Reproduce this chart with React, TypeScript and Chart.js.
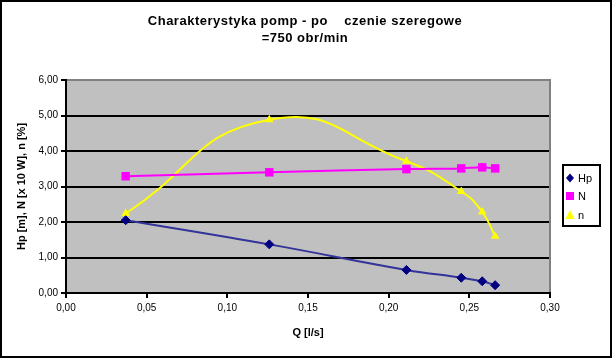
import React, { useEffect, useRef } from "react";
import { Chart, registerables } from "chart.js";

Chart.register(...registerables);

const Q = [0.037, 0.126, 0.211, 0.245, 0.258, 0.266];
const HP = [2.05, 1.37, 0.65, 0.43, 0.33, 0.22];
const N = [3.29, 3.4, 3.49, 3.51, 3.54, 3.51];
const ETA = [2.24, 4.88, 3.71, 2.86, 2.28, 1.6];
const SERIES = ["Hp", "N", "n"];
const TITLE = ["Charakterystyka pomp - po    czenie szeregowe", "=750 obr/min"];
const X_TITLE = "Q [l/s]";
const Y_TITLE = "Hp [m], N [x 10 W], n [%]";
const X_MIN = 0;
const X_MAX = 0.3;
const X_STEP = 0.05;
const Y_MIN = 0;
const Y_MAX = 6;
const Y_STEP = 1;

const FONT = "'Liberation Sans', Arial, sans-serif";

const fmt = (v: number) => Number(v).toFixed(2).replace(".", ",");

const decorPlugin = {
  id: "decor",
  beforeDraw(chart: any) {
    const { ctx, chartArea: a, width, height } = chart;
    ctx.save();
    ctx.fillStyle = "#ffffff";
    ctx.fillRect(0, 0, width, height);
    ctx.fillStyle = "#c0c0c0";
    ctx.fillRect(a.left, a.top, a.right - a.left, a.bottom - a.top);
    ctx.restore();
  },
  beforeDatasetsDraw(chart: any) {
    const { ctx, chartArea: a } = chart;
    ctx.save();
    ctx.strokeStyle = "#808080";
    ctx.lineWidth = 2;
    ctx.beginPath();
    ctx.moveTo(a.left + 1, a.top);
    ctx.lineTo(a.right, a.top);
    ctx.lineTo(a.right, a.bottom - 1);
    ctx.stroke();
    ctx.restore();
  },
  afterDraw(chart: any) {
    const { ctx, width, height } = chart;
    ctx.save();
    // outer border
    ctx.strokeStyle = "#000";
    ctx.lineWidth = 2;
    ctx.strokeRect(1, 1, width - 2, height - 2);
    // title
    ctx.fillStyle = "#000";
    ctx.font = `bold 13px ${FONT}`;
    (ctx as any).letterSpacing = "0.5px";
    ctx.textAlign = "center";
    ctx.textBaseline = "middle";
    ctx.fillText(TITLE[0], 305, 21);
    ctx.fillText(TITLE[1], 305, 38);
    (ctx as any).letterSpacing = "0px";
    // legend
    const bx = 563, by = 165, bw = 37, bh = 61;
    ctx.lineWidth = 2;
    ctx.strokeRect(bx, by, bw, bh);
    ctx.font = `11px ${FONT}`;
    ctx.textAlign = "left";
    const rows = [178, 196, 215];
    chart.data.datasets.forEach((ds: any, i: number) => {
      const y = rows[i];
      const x = 570;
      ctx.fillStyle = ds.pointBackgroundColor;
      ctx.beginPath();
      if (ds.pointStyle === "rectRot") {
        ctx.moveTo(x, y - 4.5);
        ctx.lineTo(x + 4, y);
        ctx.lineTo(x, y + 4.5);
        ctx.lineTo(x - 4, y);
      } else if (ds.pointStyle === "rect") {
        ctx.rect(x - 4, y - 4, 8, 8);
      } else {
        ctx.moveTo(x, y - 5);
        ctx.lineTo(x + 4.5, y + 4);
        ctx.lineTo(x - 4.5, y + 4);
      }
      ctx.closePath();
      ctx.fill();
      ctx.fillStyle = "#000";
      ctx.fillText(ds.label, 578, y + 0.5);
    });
    ctx.restore();
  },
};

export default function App() {
  const ref = useRef<HTMLCanvasElement | null>(null);
  useEffect(() => {
    if (!ref.current) return;
    const mk = (arr: number[]) => Q.map((q, i) => ({ x: q, y: arr[i] }));
    const tickFont = { family: FONT, size: 10 };
    const titleFont = { family: FONT, size: 11, weight: "bold" as const };
    const chart = new Chart(ref.current, {
      type: "scatter",
      data: {
        datasets: [
          {
            label: SERIES[0],
            data: mk(HP),
            showLine: true,
            borderColor: "#333399",
            borderWidth: 2,
            tension: 0.4,
            pointStyle: "rectRot",
            pointRadius: 4.5,
            pointBackgroundColor: "#000080",
            pointBorderColor: "#000080",
            pointBorderWidth: 1,
          },
          {
            label: SERIES[1],
            data: mk(N),
            showLine: true,
            borderColor: "#ff00ff",
            borderWidth: 2,
            tension: 0.4,
            pointStyle: "rect",
            pointRadius: 6,
            pointBackgroundColor: "#ff00ff",
            pointBorderColor: "#ff00ff",
            pointBorderWidth: 0,
          },
          {
            label: SERIES[2],
            data: mk(ETA),
            showLine: true,
            borderColor: "#ffff00",
            borderWidth: 2,
            tension: 0.5,
            pointStyle: "triangle",
            pointRadius: 5,
            pointBackgroundColor: "#ffff00",
            pointBorderColor: "#ffff00",
            pointBorderWidth: 0,
          },
        ],
      } as any,
      options: {
        responsive: false,
        animation: false,
        layout: { padding: { left: 0, right: 62, top: 80, bottom: 0 } },
        plugins: {
          legend: { display: false },
          title: { display: false },
          tooltip: { enabled: false },
        },
        scales: {
          x: {
            type: "linear",
            min: X_MIN,
            max: X_MAX,
            ticks: {
              stepSize: X_STEP,
              callback: (v: any) => fmt(v),
              font: tickFont,
              color: "#000",
              padding: 4,
              maxRotation: 0,
            },
            grid: { drawOnChartArea: false, drawTicks: true, tickLength: 5, color: "#000", lineWidth: 2 },
            border: { color: "#000", width: 2 },
            title: { display: true, text: X_TITLE, font: titleFont, color: "#000", padding: { top: 0, bottom: 18 } },
            afterFit: (s: any) => {
              s.height = 65;
            },
          },
          y: {
            type: "linear",
            min: Y_MIN,
            max: Y_MAX,
            ticks: {
              stepSize: Y_STEP,
              callback: (v: any) => fmt(v),
              font: tickFont,
              color: "#000",
              padding: 3,
            },
            grid: { drawOnChartArea: true, drawTicks: true, tickLength: 5, color: "#000", lineWidth: 2 },
            border: { color: "#000", width: 2 },
            title: { display: true, text: Y_TITLE, font: titleFont, color: "#000", padding: { top: 15, bottom: 0 } },
            afterFit: (s: any) => {
              s.width = 66;
            },
          },
        },
      } as any,
      plugins: [decorPlugin],
    });
    return () => chart.destroy();
  }, []);
  return (
    <div style={{ position: "fixed", left: 0, top: 0, width: 612, height: 358 }}>
      <canvas ref={ref} width={612} height={358} style={{ display: "block" }} />
    </div>
  );
}
